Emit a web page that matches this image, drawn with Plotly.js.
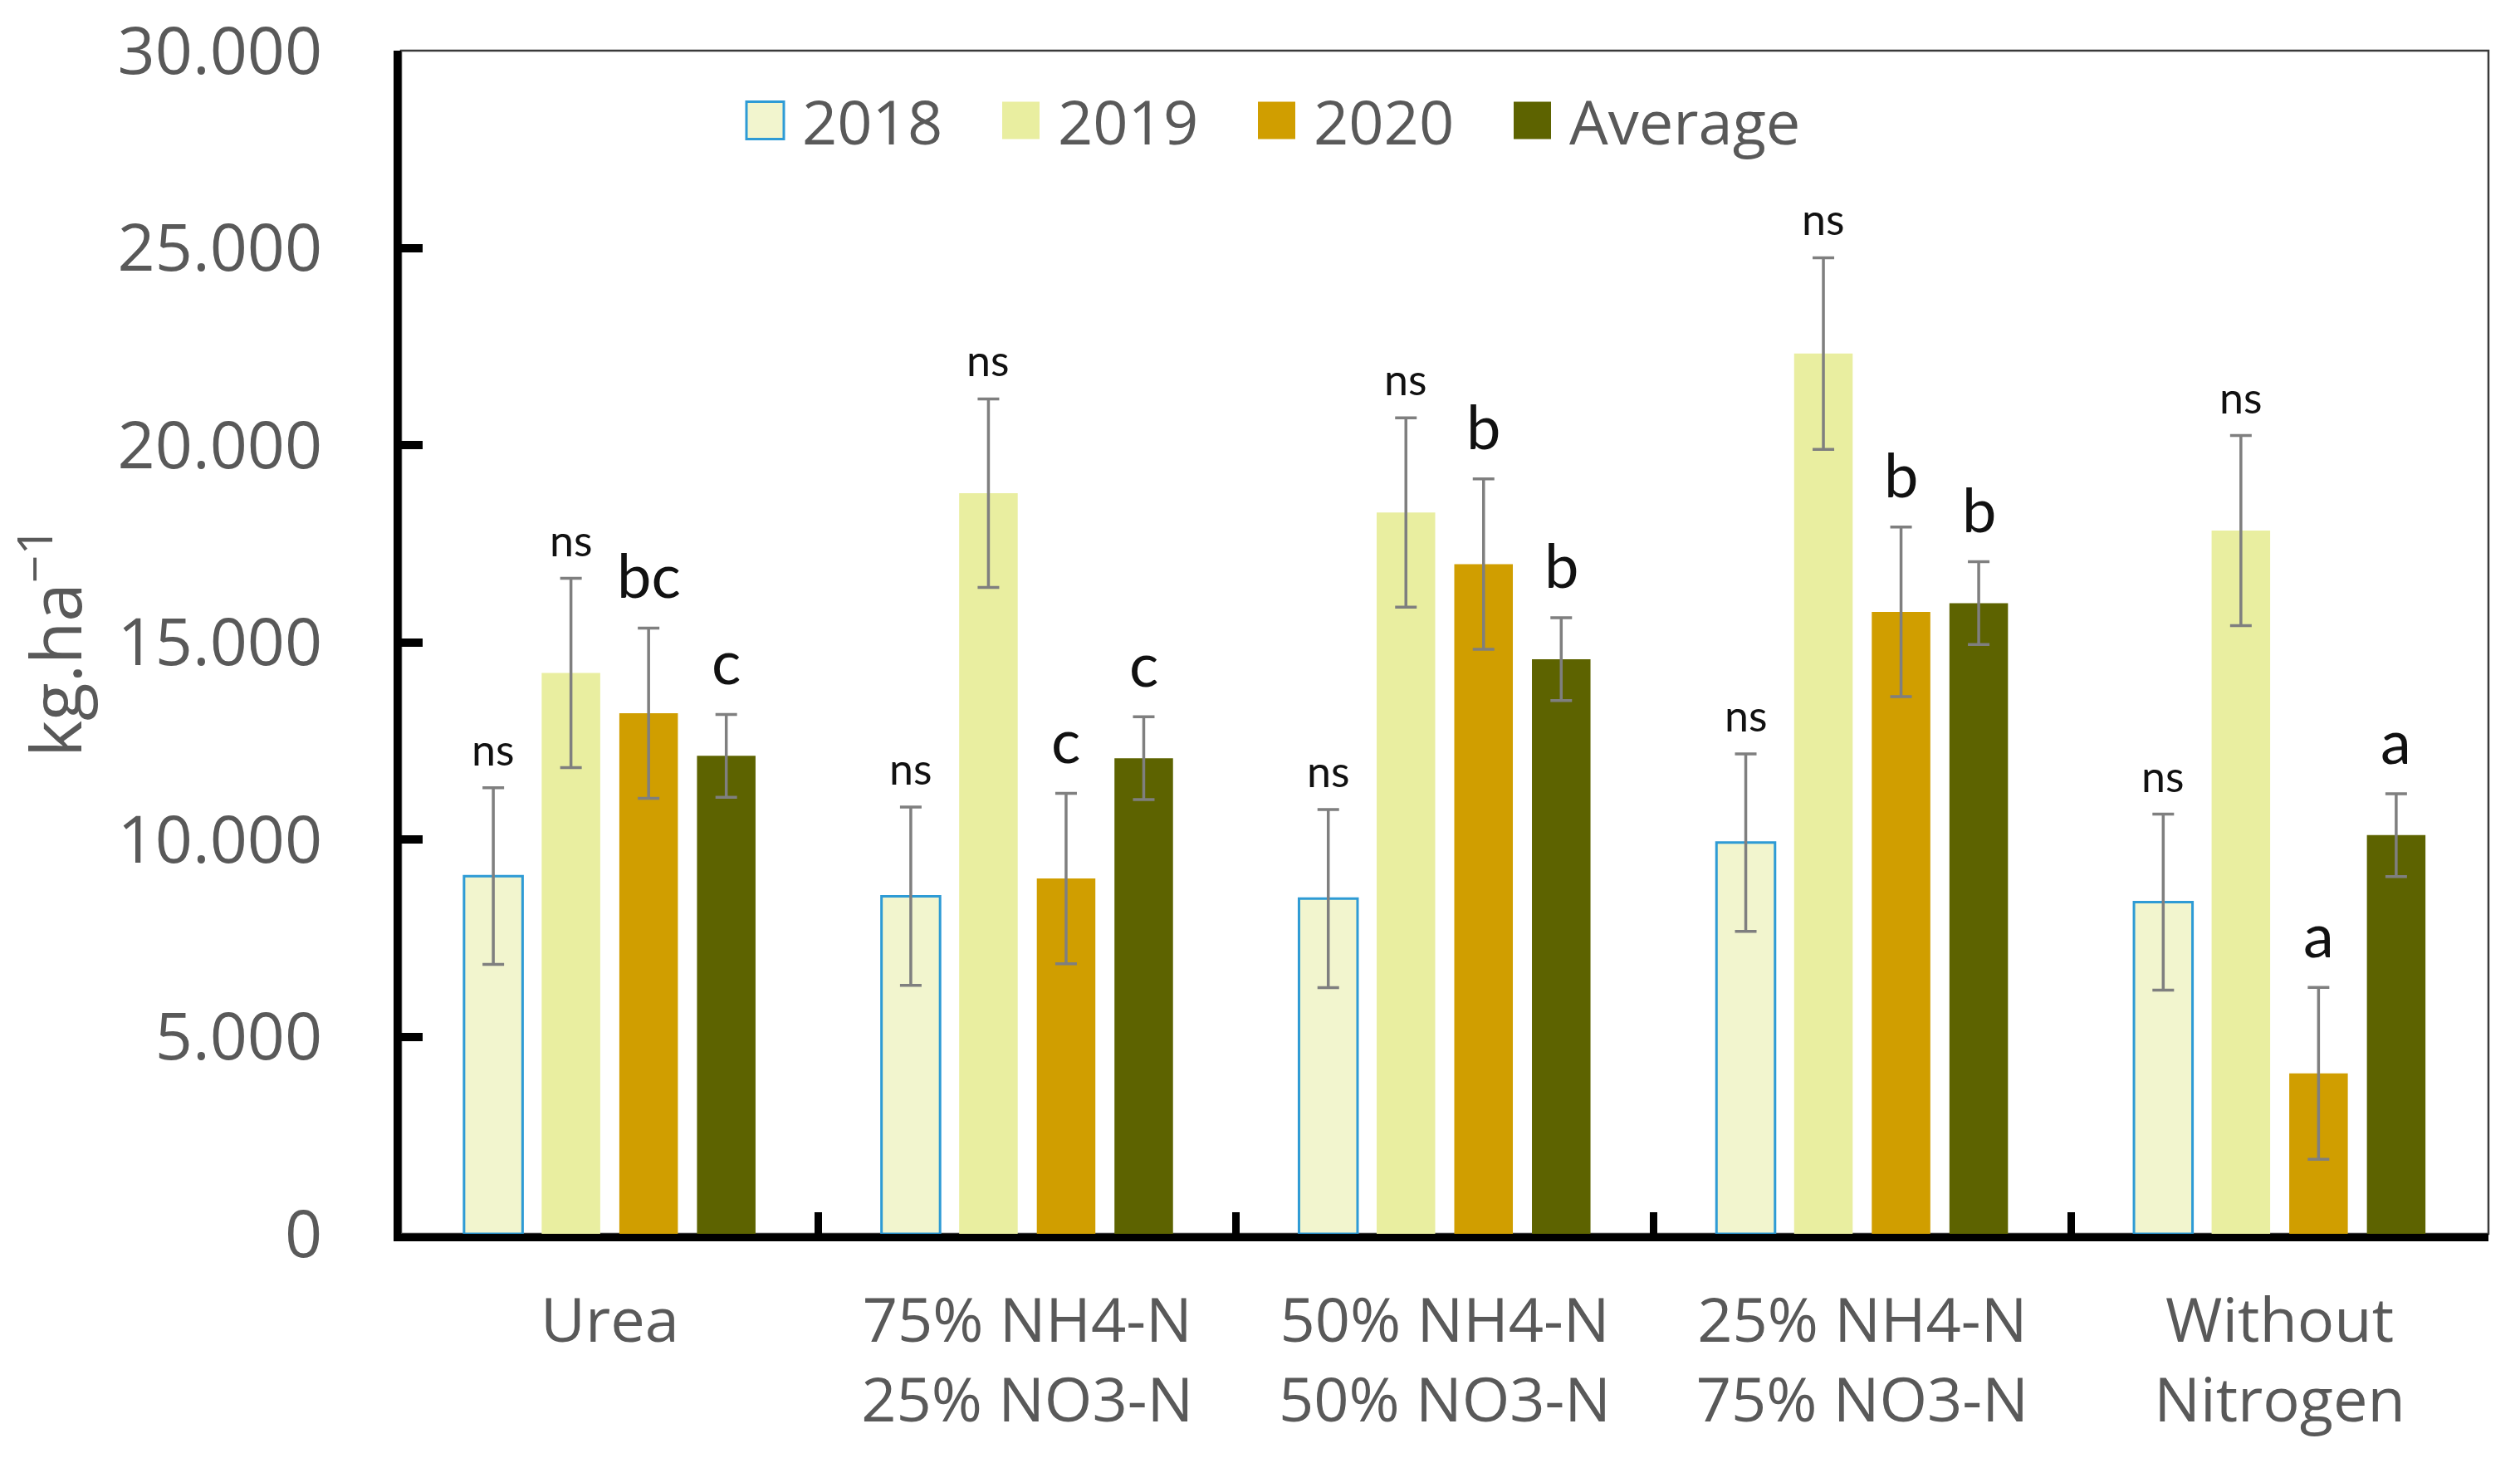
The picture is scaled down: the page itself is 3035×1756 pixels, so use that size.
<!DOCTYPE html>
<html><head><meta charset="utf-8">
<script src="https://cdn.plot.ly/plotly-3.0.1.min.js"></script>
<style>html,body{margin:0;padding:0;background:#fff;}</style>
</head><body><div id="chart" style="width:3035px;height:1756px;"></div>
<script>
// ---- data ----
const categories = ["Urea", "75% NH4-N<br>25% NO3-N", "50% NH4-N<br>50% NO3-N", "25% NH4-N<br>75% NO3-N", "Without<br>Nitrogen"];
const seriesNames = ["2018", "2019", "2020", "Average"];
const values2018 = [9070, 8560, 8500, 9920, 8410];
const errors2018 = [2240, 2260, 2260, 2250, 2230];
const values2019 = [14220, 18780, 18290, 22320, 17830];
const errors2019 = [2400, 2390, 2400, 2430, 2410];
const values2020 = [13200, 9010, 16980, 15770, 4070];
const errors2020 = [2160, 2160, 2160, 2150, 2180];
const valuesAvg = [12120, 12060, 14570, 15990, 10110];
const errorsAvg = [1050, 1050, 1050, 1050, 1050];
const labels2018 = ["ns", "ns", "ns", "ns", "ns"];
const labels2019 = ["ns", "ns", "ns", "ns", "ns"];
const labels2020 = ["bc", "c", "b", "b", "a"];
const labelsAvg = ["c", "c", "b", "b", "a"];
const yTickValues = [0, 5000, 10000, 15000, 20000, 25000, 30000];

// ---- style ----
const fills = ["#F2F5CE", "#E9EEA0", "#D09E00", "#5D6300"];
const borders = ["#2E9BD5", null, null, null];
const allValues = [values2018, values2019, values2020, valuesAvg];
const allErrors = [errors2018, errors2019, errors2020, errorsAvg];
const allLabels = [labels2018, labels2019, labels2020, labelsAvg];
const BARGAP = 0.256, BARGROUPGAP = 0.246;
const W = 3035, H = 1756;
const M = {l: 483, r: 38, t: 61, b: 270};
const plotW = W - M.l - M.r, plotH = H - M.t - M.b;
const tickGray = "#595959";

const traces = seriesNames.map((name, k) => ({
  type: "bar",
  name: name,
  x: categories,
  y: allValues[k],
  marker: {color: fills[k], line: {color: borders[k] || fills[k], width: borders[k] ? 3 : 0}},
  error_y: {type: "data", array: allErrors[k], visible: true, color: "#7F7F7F", thickness: 3.5, width: 13},
  showlegend: false,
  hoverinfo: "skip"
}));

// significance labels
const annotations = [];
const step = (1 - BARGAP) / seriesNames.length;
allLabels.forEach((labs, k) => {
  labs.forEach((t, i) => {
    const isNs = t === "ns";
    annotations.push({
      x: i + (k - (seriesNames.length - 1) / 2) * step,
      xref: "x", y: allValues[k][i] + allErrors[k][i], yref: "y",
      text: t, showarrow: false, xanchor: "center", yanchor: "bottom",
      yshift: isNs ? 14 : 18,
      font: {family: "Lato, 'Open Sans', sans-serif", size: isNs ? 52 : 74, color: "#111111"}
    });
  });
});

// manual legend
const shapes = [];
const legStartPx = 899, legStepPx = 308, legBox = 45, legCenterY = 145;
seriesNames.forEach((name, k) => {
  const x0 = legStartPx + k * legStepPx;
  const px = v => (v - M.l) / plotW;
  const py = v => (H - M.b - v) / plotH;
  shapes.push({type: "rect", xref: "paper", yref: "paper",
    x0: px(x0), x1: px(x0 + legBox), y0: py(legCenterY + legBox / 2), y1: py(legCenterY - legBox / 2),
    fillcolor: fills[k], line: {color: borders[k] || fills[k], width: borders[k] ? 3 : 0}});
  annotations.push({xref: "paper", yref: "paper", x: px(x0 + legBox + 20), y: py(legCenterY),
    text: name, showarrow: false, xanchor: "left", yanchor: "middle",
    font: {family: "'Open Sans', sans-serif", size: 74, color: tickGray}});
});
// thin box border (top/right)
shapes.push({type: "rect", xref: "paper", yref: "paper", x0: 0, x1: 1, y0: 0, y1: 1,
  line: {color: "#3A3A3A", width: 2.5}, layer: "below"});

const layout = {
  width: W, height: H,
  margin: M,
  paper_bgcolor: "#ffffff", plot_bgcolor: "#ffffff",
  barmode: "group", bargap: BARGAP, bargroupgap: BARGROUPGAP,
  separators: ",.",
  font: {family: "'Open Sans', sans-serif", color: tickGray},
  xaxis: {
    type: "category", showgrid: false, zeroline: false,
    showline: true, linecolor: "#000000", linewidth: 9,
    ticks: "inside", tickson: "boundaries", ticklen: 26, tickwidth: 9, tickcolor: "#000000",
    tickfont: {family: "'Open Sans', sans-serif", size: 74, color: tickGray},
    ticklabelstandoff: 32
  },
  yaxis: {
    range: [0, 30000], tickvals: yTickValues, tickformat: ",d",
    showgrid: false, zeroline: false,
    showline: true, linecolor: "#000000", linewidth: 9,
    ticks: "inside", ticklen: 26, tickwidth: 10, tickcolor: "#000000",
    tickfont: {family: "'Open Sans', sans-serif", size: 79, color: tickGray},
    ticklabelstandoff: 70,
    title: {text: "kg.ha<sup>−1</sup>", font: {family: "'Open Sans', sans-serif", size: 84, color: tickGray}, standoff: 20}
  },
  shapes: shapes,
  annotations: annotations
};

Plotly.newPlot("chart", traces, layout, {displayModeBar: false, staticPlot: true});
</script>
</body></html>
